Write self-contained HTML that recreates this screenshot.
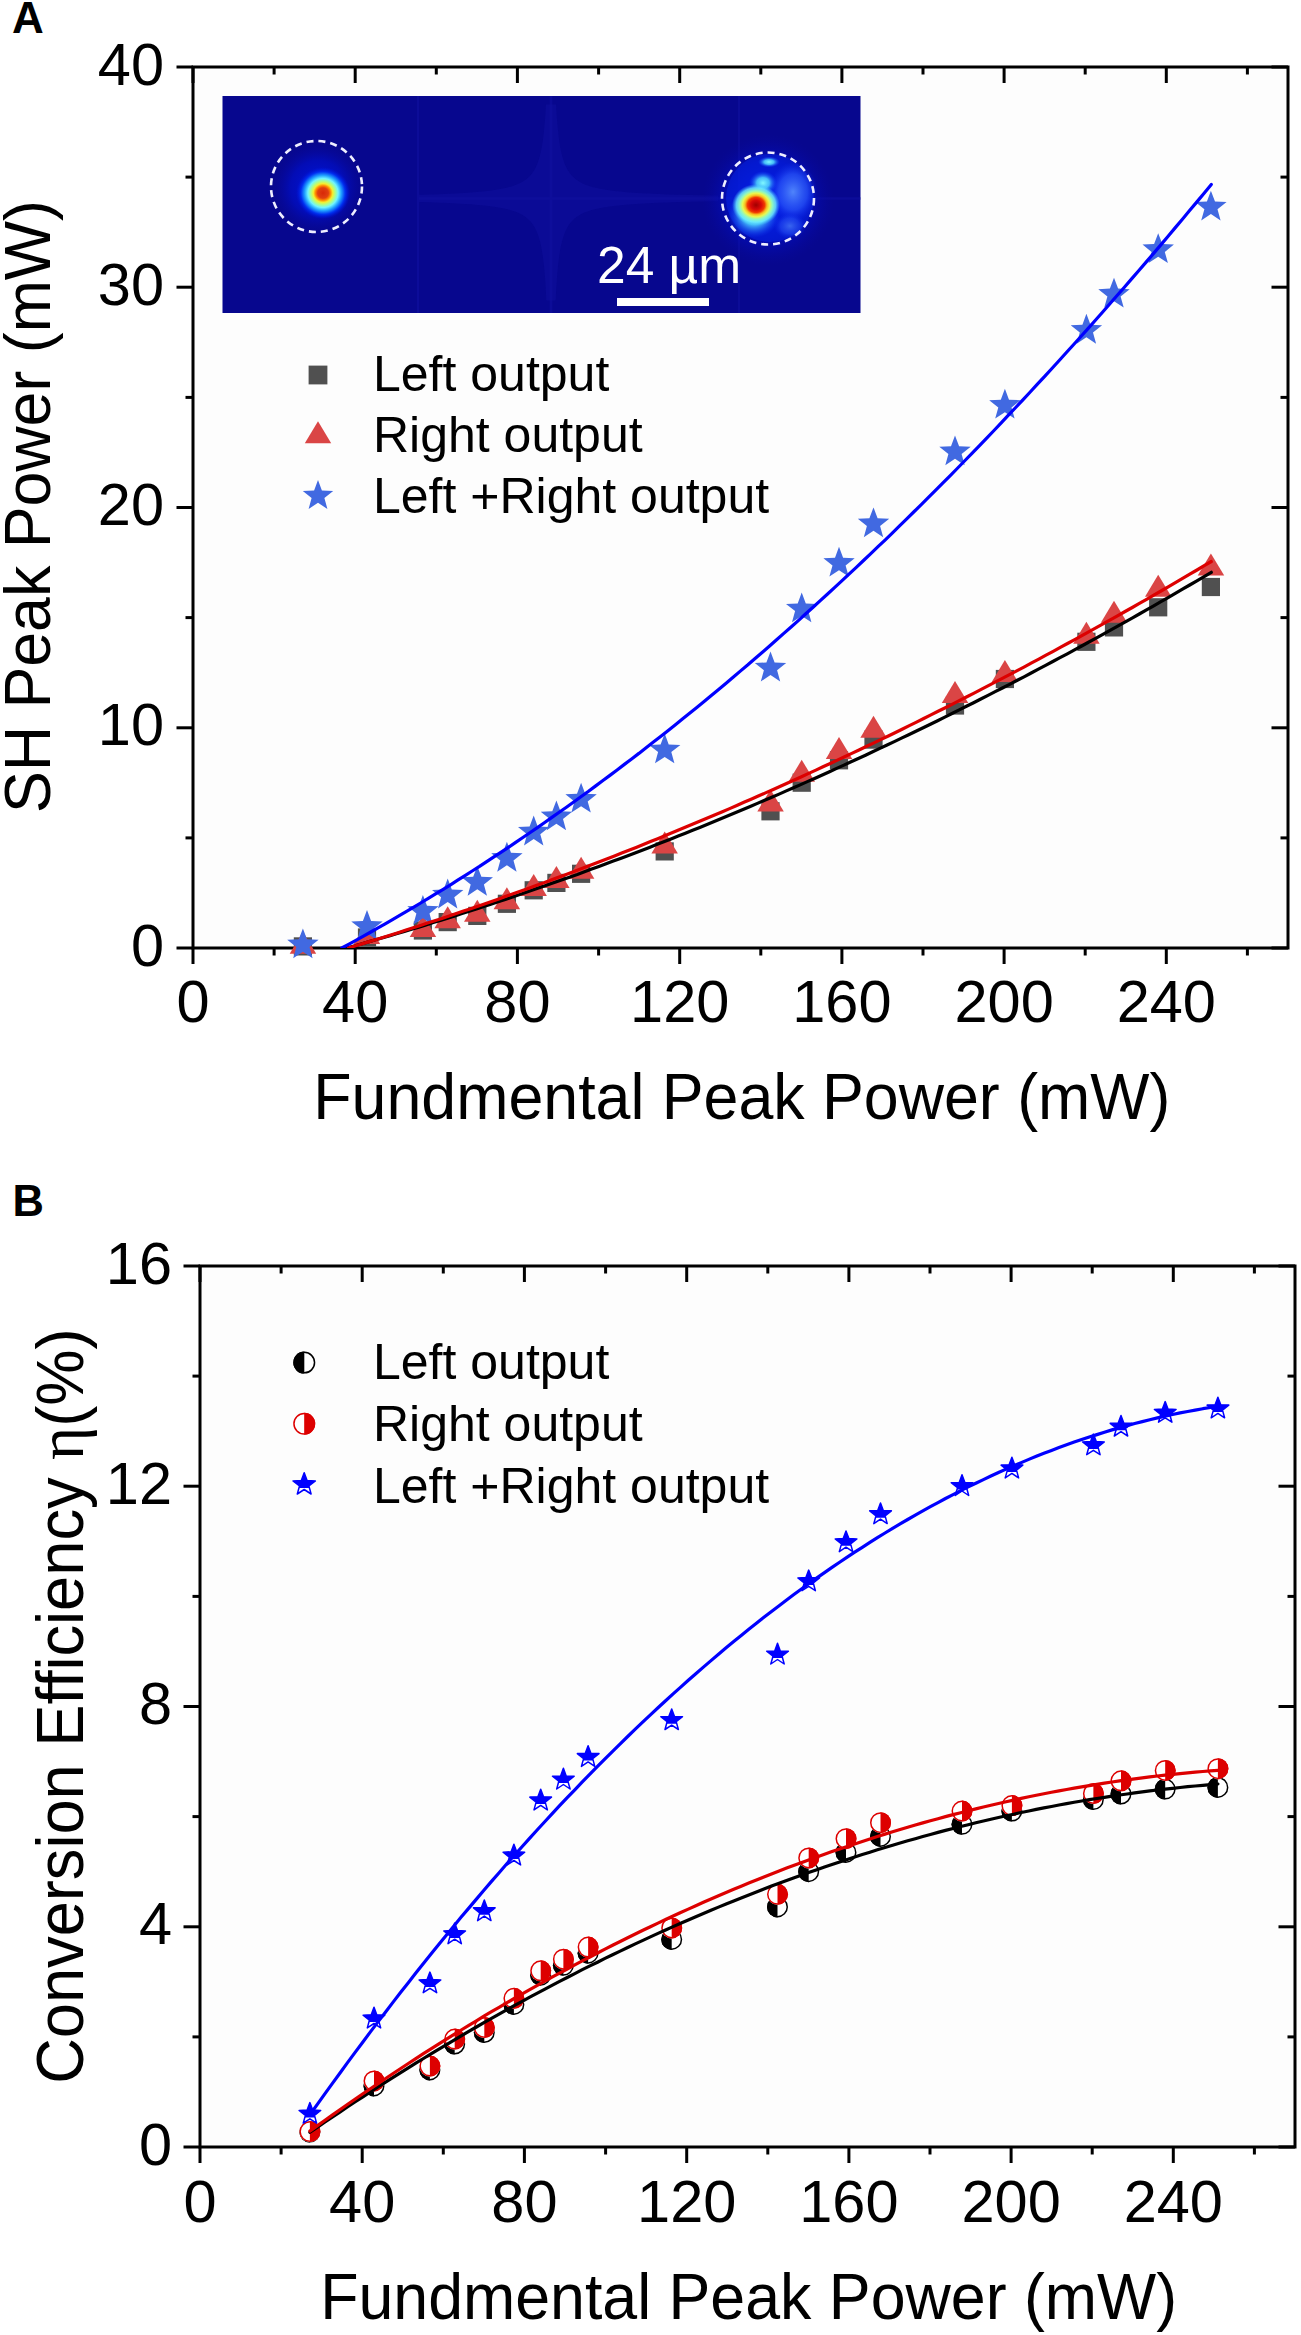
<!DOCTYPE html>
<html><head><meta charset="utf-8"><title>SH power and conversion efficiency</title>
<style>
html,body{margin:0;padding:0;background:#fff;}
body{width:1301px;height:2335px;overflow:hidden;}
svg{display:block;}
text{font-family:"Liberation Sans",sans-serif;font-variant-ligatures:none;font-feature-settings:"liga" 0;}
</style></head><body>
<svg width="1301" height="2335" viewBox="0 0 1301 2335">
<defs>
<radialGradient id="spotL" cx="0.5" cy="0.5" r="0.5">
 <stop offset="0" stop-color="#d82808"/>
 <stop offset="0.2" stop-color="#e04010"/>
 <stop offset="0.28" stop-color="#ff8a00"/>
 <stop offset="0.36" stop-color="#f4f030"/>
 <stop offset="0.46" stop-color="#a8ff90"/>
 <stop offset="0.56" stop-color="#70f4ff"/>
 <stop offset="0.68" stop-color="#20a0ff"/>
 <stop offset="0.82" stop-color="#0030f0"/>
 <stop offset="1" stop-color="#0010d8" stop-opacity="0"/>
</radialGradient>
<radialGradient id="spotR" cx="0.5" cy="0.5" r="0.5">
 <stop offset="0" stop-color="#a00000"/>
 <stop offset="0.22" stop-color="#d80808"/>
 <stop offset="0.36" stop-color="#f03a00"/>
 <stop offset="0.46" stop-color="#f8c020"/>
 <stop offset="0.56" stop-color="#e8f850"/>
 <stop offset="0.68" stop-color="#90f8c0"/>
 <stop offset="0.82" stop-color="#70f0ff" stop-opacity="0.8"/>
 <stop offset="1" stop-color="#40c0ff" stop-opacity="0"/>
</radialGradient>
<radialGradient id="glow" cx="0.5" cy="0.5" r="0.5">
 <stop offset="0" stop-color="#0018e8" stop-opacity="0.95"/>
 <stop offset="0.6" stop-color="#0010d0" stop-opacity="0.6"/>
 <stop offset="1" stop-color="#0808a0" stop-opacity="0"/>
</radialGradient>
<radialGradient id="cyan" cx="0.5" cy="0.5" r="0.5">
 <stop offset="0" stop-color="#80f8ff"/>
 <stop offset="0.45" stop-color="#50d8ff" stop-opacity="0.85"/>
 <stop offset="1" stop-color="#1040ff" stop-opacity="0"/>
</radialGradient>
<radialGradient id="lblue" cx="0.5" cy="0.5" r="0.5">
 <stop offset="0" stop-color="#5890ff" stop-opacity="0.9"/>
 <stop offset="0.6" stop-color="#3060ff" stop-opacity="0.6"/>
 <stop offset="1" stop-color="#1030f0" stop-opacity="0"/>
</radialGradient>
<clipPath id="clipA"><rect x="193.0" y="67.0" width="1095.0" height="881.0"/></clipPath>
<clipPath id="clipB"><rect x="200.0" y="1266.0" width="1095.0" height="881.0"/></clipPath>
</defs>
<rect width="1301" height="2335" fill="#fff"/>

<rect x="193.0" y="67.0" width="1095.0" height="881.0" fill="#fdfdfd"/>
<rect x="200.0" y="1266.0" width="1095.0" height="881.0" fill="#fdfdfd"/>
<rect x="222.5" y="96.0" width="638.0" height="217.0" fill="#07078e"/>
<g fill="none" stroke="#1010a0" stroke-width="2.5" opacity="0.6">
<line x1="418" y1="96.0" x2="418" y2="313.0" stroke-width="2"/>
<line x1="551" y1="96.0" x2="551" y2="313.0"/>
<line x1="739" y1="96.0" x2="739" y2="313.0" stroke-width="2"/>
<line x1="418" y1="198.4" x2="860.5" y2="198.4"/>
</g>
<path d="M556.1,104.4 L556.5,112.3 L557.0,119.5 L557.6,126.1 L558.2,132.1 L558.8,137.7 L559.5,142.8 L560.3,147.4 L561.2,151.7 L562.1,155.6 L563.1,159.2 L564.2,162.5 L565.4,165.5 L566.8,168.2 L568.2,170.8 L569.8,173.1 L571.5,175.2 L573.3,177.1 L575.4,178.9 L577.6,180.6 L580.0,182.0 L582.7,183.4 L585.6,184.7 L588.8,185.8 L592.2,186.9 L596.0,187.8 L600.1,188.7 L604.6,189.5 L609.5,190.3 L614.8,191.0 L620.7,191.6 L627.0,192.2 L634.0,192.7 L641.5,193.2 L649.8,193.6 L658.9,194.0 L668.7,194.4 L679.5,194.7 L691.2,195.0 L704.0,195.3 L718.0,195.6 L718.0,201.2 L703.7,201.5 L690.6,201.8 L678.7,202.1 L667.7,202.5 L657.8,202.8 L648.6,203.3 L640.3,203.7 L632.6,204.2 L625.6,204.8 L619.2,205.4 L613.4,206.0 L608.1,206.7 L603.2,207.5 L598.7,208.4 L594.6,209.3 L590.9,210.3 L587.5,211.4 L584.4,212.6 L581.5,214.0 L578.9,215.4 L576.5,217.0 L574.3,218.8 L572.3,220.7 L570.5,222.8 L568.8,225.0 L567.3,227.5 L565.9,230.3 L564.6,233.3 L563.5,236.5 L562.4,240.1 L561.4,244.0 L560.5,248.3 L559.7,252.9 L559.0,258.0 L558.3,263.6 L557.7,269.7 L557.1,276.4 L556.6,283.7 L556.1,291.7 L555.7,300.4 L546.3,300.4 L545.9,292.2 L545.5,284.7 L545.0,277.8 L544.5,271.4 L543.9,265.5 L543.3,260.2 L542.6,255.2 L541.9,250.7 L541.1,246.5 L540.3,242.6 L539.3,239.1 L538.3,235.8 L537.2,232.8 L536.0,230.0 L534.7,227.5 L533.3,225.2 L531.7,223.0 L530.0,221.0 L528.2,219.2 L526.2,217.6 L524.0,216.0 L521.7,214.6 L519.1,213.3 L516.4,212.1 L513.3,211.0 L510.1,210.0 L506.5,209.1 L502.6,208.2 L498.4,207.4 L493.8,206.7 L488.8,206.0 L483.4,205.4 L477.5,204.9 L471.1,204.3 L464.1,203.9 L456.5,203.4 L448.3,203.0 L439.3,202.7 L429.6,202.3 L419.0,202.0 L419.0,194.8 L429.3,194.5 L438.9,194.2 L447.7,193.8 L455.7,193.4 L463.2,193.0 L470.1,192.5 L476.4,192.0 L482.3,191.5 L487.6,190.9 L492.6,190.3 L497.2,189.6 L501.4,188.8 L505.3,188.0 L508.9,187.1 L512.2,186.2 L515.2,185.1 L518.0,184.0 L520.6,182.8 L523.0,181.4 L525.2,180.0 L527.2,178.4 L529.1,176.7 L530.8,174.9 L532.4,172.9 L533.8,170.7 L535.2,168.4 L536.4,165.8 L537.6,163.1 L538.6,160.1 L539.6,156.8 L540.5,153.3 L541.3,149.5 L542.1,145.3 L542.8,140.8 L543.4,135.9 L544.0,130.6 L544.5,124.8 L545.1,118.5 L545.5,111.8 L545.9,104.4 Z" fill="#10109e" opacity="0.5"/>
<circle cx="318" cy="188" r="46" fill="url(#glow)"/>
<ellipse cx="323" cy="193" rx="27" ry="26" fill="url(#spotL)"/>
<circle cx="768" cy="200" r="66" fill="url(#glow)"/>
<circle cx="770" cy="198" r="44" fill="#0830ff" opacity="0.35"/>
<ellipse cx="793" cy="192" rx="24" ry="30" fill="url(#lblue)"/>
<ellipse cx="790" cy="226" rx="16" ry="13" fill="url(#lblue)" opacity="0.7"/>
<ellipse cx="763" cy="183" rx="14" ry="12" fill="url(#cyan)"/>
<ellipse cx="769" cy="162" rx="11" ry="5.5" fill="url(#cyan)"/>
<ellipse cx="754" cy="214" rx="26" ry="24" fill="url(#cyan)"/>
<ellipse cx="756" cy="205" rx="24" ry="21" fill="url(#spotR)"/>
<g fill="none" stroke="#eeeeff" stroke-width="2.6" stroke-dasharray="7 5">
<circle cx="316.5" cy="186.5" r="45.5"/>
<circle cx="768" cy="198.5" r="46"/>
</g>
<rect x="617" y="298" width="92" height="8" fill="#fff"/>
<text x="597" y="283" font-size="51.5" fill="#fff">24 µm</text>
<rect x="193.0" y="67.0" width="1095.0" height="881.0" fill="none" stroke="#000" stroke-width="3"/><line x1="193.0" y1="948.0" x2="193.0" y2="964.0" stroke="#000" stroke-width="3"/><line x1="193.0" y1="67.0" x2="193.0" y2="83.0" stroke="#000" stroke-width="3"/><text x="193.0" y="1022" font-size="59.5" text-anchor="middle">0</text><line x1="274.1" y1="948.0" x2="274.1" y2="955.5" stroke="#000" stroke-width="3"/><line x1="274.1" y1="67.0" x2="274.1" y2="74.5" stroke="#000" stroke-width="3"/><line x1="355.2" y1="948.0" x2="355.2" y2="964.0" stroke="#000" stroke-width="3"/><line x1="355.2" y1="67.0" x2="355.2" y2="83.0" stroke="#000" stroke-width="3"/><text x="355.2" y="1022" font-size="59.5" text-anchor="middle">40</text><line x1="436.3" y1="948.0" x2="436.3" y2="955.5" stroke="#000" stroke-width="3"/><line x1="436.3" y1="67.0" x2="436.3" y2="74.5" stroke="#000" stroke-width="3"/><line x1="517.4" y1="948.0" x2="517.4" y2="964.0" stroke="#000" stroke-width="3"/><line x1="517.4" y1="67.0" x2="517.4" y2="83.0" stroke="#000" stroke-width="3"/><text x="517.4" y="1022" font-size="59.5" text-anchor="middle">80</text><line x1="598.6" y1="948.0" x2="598.6" y2="955.5" stroke="#000" stroke-width="3"/><line x1="598.6" y1="67.0" x2="598.6" y2="74.5" stroke="#000" stroke-width="3"/><line x1="679.7" y1="948.0" x2="679.7" y2="964.0" stroke="#000" stroke-width="3"/><line x1="679.7" y1="67.0" x2="679.7" y2="83.0" stroke="#000" stroke-width="3"/><text x="679.7" y="1022" font-size="59.5" text-anchor="middle">120</text><line x1="760.8" y1="948.0" x2="760.8" y2="955.5" stroke="#000" stroke-width="3"/><line x1="760.8" y1="67.0" x2="760.8" y2="74.5" stroke="#000" stroke-width="3"/><line x1="841.9" y1="948.0" x2="841.9" y2="964.0" stroke="#000" stroke-width="3"/><line x1="841.9" y1="67.0" x2="841.9" y2="83.0" stroke="#000" stroke-width="3"/><text x="841.9" y="1022" font-size="59.5" text-anchor="middle">160</text><line x1="923.0" y1="948.0" x2="923.0" y2="955.5" stroke="#000" stroke-width="3"/><line x1="923.0" y1="67.0" x2="923.0" y2="74.5" stroke="#000" stroke-width="3"/><line x1="1004.1" y1="948.0" x2="1004.1" y2="964.0" stroke="#000" stroke-width="3"/><line x1="1004.1" y1="67.0" x2="1004.1" y2="83.0" stroke="#000" stroke-width="3"/><text x="1004.1" y="1022" font-size="59.5" text-anchor="middle">200</text><line x1="1085.2" y1="948.0" x2="1085.2" y2="955.5" stroke="#000" stroke-width="3"/><line x1="1085.2" y1="67.0" x2="1085.2" y2="74.5" stroke="#000" stroke-width="3"/><line x1="1166.3" y1="948.0" x2="1166.3" y2="964.0" stroke="#000" stroke-width="3"/><line x1="1166.3" y1="67.0" x2="1166.3" y2="83.0" stroke="#000" stroke-width="3"/><text x="1166.3" y="1022" font-size="59.5" text-anchor="middle">240</text><line x1="1247.4" y1="948.0" x2="1247.4" y2="955.5" stroke="#000" stroke-width="3"/><line x1="1247.4" y1="67.0" x2="1247.4" y2="74.5" stroke="#000" stroke-width="3"/><line x1="176.5" y1="948.0" x2="193.0" y2="948.0" stroke="#000" stroke-width="3"/><line x1="1271.5" y1="948.0" x2="1288.0" y2="948.0" stroke="#000" stroke-width="3"/><text x="164" y="965.5" font-size="59.5" text-anchor="end">0</text><line x1="176.5" y1="727.8" x2="193.0" y2="727.8" stroke="#000" stroke-width="3"/><line x1="1271.5" y1="727.8" x2="1288.0" y2="727.8" stroke="#000" stroke-width="3"/><text x="164" y="745.2" font-size="59.5" text-anchor="end">10</text><line x1="176.5" y1="507.5" x2="193.0" y2="507.5" stroke="#000" stroke-width="3"/><line x1="1271.5" y1="507.5" x2="1288.0" y2="507.5" stroke="#000" stroke-width="3"/><text x="164" y="525.0" font-size="59.5" text-anchor="end">20</text><line x1="176.5" y1="287.2" x2="193.0" y2="287.2" stroke="#000" stroke-width="3"/><line x1="1271.5" y1="287.2" x2="1288.0" y2="287.2" stroke="#000" stroke-width="3"/><text x="164" y="304.8" font-size="59.5" text-anchor="end">30</text><line x1="176.5" y1="67.0" x2="193.0" y2="67.0" stroke="#000" stroke-width="3"/><line x1="1271.5" y1="67.0" x2="1288.0" y2="67.0" stroke="#000" stroke-width="3"/><text x="164" y="84.5" font-size="59.5" text-anchor="end">40</text><line x1="185.5" y1="837.9" x2="193.0" y2="837.9" stroke="#000" stroke-width="3"/><line x1="1280.5" y1="837.9" x2="1288.0" y2="837.9" stroke="#000" stroke-width="3"/><line x1="185.5" y1="617.6" x2="193.0" y2="617.6" stroke="#000" stroke-width="3"/><line x1="1280.5" y1="617.6" x2="1288.0" y2="617.6" stroke="#000" stroke-width="3"/><line x1="185.5" y1="397.4" x2="193.0" y2="397.4" stroke="#000" stroke-width="3"/><line x1="1280.5" y1="397.4" x2="1288.0" y2="397.4" stroke="#000" stroke-width="3"/><line x1="185.5" y1="177.1" x2="193.0" y2="177.1" stroke="#000" stroke-width="3"/><line x1="1280.5" y1="177.1" x2="1288.0" y2="177.1" stroke="#000" stroke-width="3"/>
<rect x="200.0" y="1266.0" width="1095.0" height="881.0" fill="none" stroke="#000" stroke-width="3"/><line x1="200.0" y1="2147.0" x2="200.0" y2="2163.0" stroke="#000" stroke-width="3"/><line x1="200.0" y1="1266.0" x2="200.0" y2="1282.0" stroke="#000" stroke-width="3"/><text x="200.0" y="2222" font-size="59.5" text-anchor="middle">0</text><line x1="281.1" y1="2147.0" x2="281.1" y2="2154.5" stroke="#000" stroke-width="3"/><line x1="281.1" y1="1266.0" x2="281.1" y2="1273.5" stroke="#000" stroke-width="3"/><line x1="362.2" y1="2147.0" x2="362.2" y2="2163.0" stroke="#000" stroke-width="3"/><line x1="362.2" y1="1266.0" x2="362.2" y2="1282.0" stroke="#000" stroke-width="3"/><text x="362.2" y="2222" font-size="59.5" text-anchor="middle">40</text><line x1="443.3" y1="2147.0" x2="443.3" y2="2154.5" stroke="#000" stroke-width="3"/><line x1="443.3" y1="1266.0" x2="443.3" y2="1273.5" stroke="#000" stroke-width="3"/><line x1="524.4" y1="2147.0" x2="524.4" y2="2163.0" stroke="#000" stroke-width="3"/><line x1="524.4" y1="1266.0" x2="524.4" y2="1282.0" stroke="#000" stroke-width="3"/><text x="524.4" y="2222" font-size="59.5" text-anchor="middle">80</text><line x1="605.6" y1="2147.0" x2="605.6" y2="2154.5" stroke="#000" stroke-width="3"/><line x1="605.6" y1="1266.0" x2="605.6" y2="1273.5" stroke="#000" stroke-width="3"/><line x1="686.7" y1="2147.0" x2="686.7" y2="2163.0" stroke="#000" stroke-width="3"/><line x1="686.7" y1="1266.0" x2="686.7" y2="1282.0" stroke="#000" stroke-width="3"/><text x="686.7" y="2222" font-size="59.5" text-anchor="middle">120</text><line x1="767.8" y1="2147.0" x2="767.8" y2="2154.5" stroke="#000" stroke-width="3"/><line x1="767.8" y1="1266.0" x2="767.8" y2="1273.5" stroke="#000" stroke-width="3"/><line x1="848.9" y1="2147.0" x2="848.9" y2="2163.0" stroke="#000" stroke-width="3"/><line x1="848.9" y1="1266.0" x2="848.9" y2="1282.0" stroke="#000" stroke-width="3"/><text x="848.9" y="2222" font-size="59.5" text-anchor="middle">160</text><line x1="930.0" y1="2147.0" x2="930.0" y2="2154.5" stroke="#000" stroke-width="3"/><line x1="930.0" y1="1266.0" x2="930.0" y2="1273.5" stroke="#000" stroke-width="3"/><line x1="1011.1" y1="2147.0" x2="1011.1" y2="2163.0" stroke="#000" stroke-width="3"/><line x1="1011.1" y1="1266.0" x2="1011.1" y2="1282.0" stroke="#000" stroke-width="3"/><text x="1011.1" y="2222" font-size="59.5" text-anchor="middle">200</text><line x1="1092.2" y1="2147.0" x2="1092.2" y2="2154.5" stroke="#000" stroke-width="3"/><line x1="1092.2" y1="1266.0" x2="1092.2" y2="1273.5" stroke="#000" stroke-width="3"/><line x1="1173.3" y1="2147.0" x2="1173.3" y2="2163.0" stroke="#000" stroke-width="3"/><line x1="1173.3" y1="1266.0" x2="1173.3" y2="1282.0" stroke="#000" stroke-width="3"/><text x="1173.3" y="2222" font-size="59.5" text-anchor="middle">240</text><line x1="1254.4" y1="2147.0" x2="1254.4" y2="2154.5" stroke="#000" stroke-width="3"/><line x1="1254.4" y1="1266.0" x2="1254.4" y2="1273.5" stroke="#000" stroke-width="3"/><line x1="183.5" y1="2147.0" x2="200.0" y2="2147.0" stroke="#000" stroke-width="3"/><line x1="1278.5" y1="2147.0" x2="1295.0" y2="2147.0" stroke="#000" stroke-width="3"/><text x="172" y="2164.5" font-size="59.5" text-anchor="end">0</text><line x1="183.5" y1="1926.8" x2="200.0" y2="1926.8" stroke="#000" stroke-width="3"/><line x1="1278.5" y1="1926.8" x2="1295.0" y2="1926.8" stroke="#000" stroke-width="3"/><text x="172" y="1944.2" font-size="59.5" text-anchor="end">4</text><line x1="183.5" y1="1706.5" x2="200.0" y2="1706.5" stroke="#000" stroke-width="3"/><line x1="1278.5" y1="1706.5" x2="1295.0" y2="1706.5" stroke="#000" stroke-width="3"/><text x="172" y="1724.0" font-size="59.5" text-anchor="end">8</text><line x1="183.5" y1="1486.2" x2="200.0" y2="1486.2" stroke="#000" stroke-width="3"/><line x1="1278.5" y1="1486.2" x2="1295.0" y2="1486.2" stroke="#000" stroke-width="3"/><text x="172" y="1503.8" font-size="59.5" text-anchor="end">12</text><line x1="183.5" y1="1266.0" x2="200.0" y2="1266.0" stroke="#000" stroke-width="3"/><line x1="1278.5" y1="1266.0" x2="1295.0" y2="1266.0" stroke="#000" stroke-width="3"/><text x="172" y="1283.5" font-size="59.5" text-anchor="end">16</text><line x1="192.5" y1="2036.9" x2="200.0" y2="2036.9" stroke="#000" stroke-width="3"/><line x1="1287.5" y1="2036.9" x2="1295.0" y2="2036.9" stroke="#000" stroke-width="3"/><line x1="192.5" y1="1816.6" x2="200.0" y2="1816.6" stroke="#000" stroke-width="3"/><line x1="1287.5" y1="1816.6" x2="1295.0" y2="1816.6" stroke="#000" stroke-width="3"/><line x1="192.5" y1="1596.4" x2="200.0" y2="1596.4" stroke="#000" stroke-width="3"/><line x1="1287.5" y1="1596.4" x2="1295.0" y2="1596.4" stroke="#000" stroke-width="3"/><line x1="192.5" y1="1376.1" x2="200.0" y2="1376.1" stroke="#000" stroke-width="3"/><line x1="1287.5" y1="1376.1" x2="1295.0" y2="1376.1" stroke="#000" stroke-width="3"/>
<rect x="293.8" y="937.3" width="18.2" height="18.2" fill="#505050"/>
<rect x="357.9" y="928.4" width="18.2" height="18.2" fill="#505050"/>
<rect x="413.8" y="921.4" width="18.2" height="18.2" fill="#505050"/>
<rect x="438.6" y="913.0" width="18.2" height="18.2" fill="#505050"/>
<rect x="468.2" y="906.8" width="18.2" height="18.2" fill="#505050"/>
<rect x="497.8" y="894.7" width="18.2" height="18.2" fill="#505050"/>
<rect x="524.6" y="881.2" width="18.2" height="18.2" fill="#505050"/>
<rect x="547.3" y="873.8" width="18.2" height="18.2" fill="#505050"/>
<rect x="572.0" y="864.7" width="18.2" height="18.2" fill="#505050"/>
<rect x="655.6" y="842.3" width="18.2" height="18.2" fill="#505050"/>
<rect x="761.4" y="802.2" width="18.2" height="18.2" fill="#505050"/>
<rect x="792.6" y="773.6" width="18.2" height="18.2" fill="#505050"/>
<rect x="829.9" y="751.2" width="18.2" height="18.2" fill="#505050"/>
<rect x="864.4" y="730.5" width="18.2" height="18.2" fill="#505050"/>
<rect x="945.9" y="696.4" width="18.2" height="18.2" fill="#505050"/>
<rect x="995.8" y="669.9" width="18.2" height="18.2" fill="#505050"/>
<rect x="1077.3" y="632.7" width="18.2" height="18.2" fill="#505050"/>
<rect x="1104.9" y="618.3" width="18.2" height="18.2" fill="#505050"/>
<rect x="1149.1" y="598.2" width="18.2" height="18.2" fill="#505050"/>
<rect x="1201.8" y="577.9" width="18.2" height="18.2" fill="#505050"/>
<polygon points="302.9,931.7 316.2,953.7 289.7,953.7" fill="#da4545"/>
<polygon points="367.0,922.0 380.2,944.0 353.7,944.0" fill="#da4545"/>
<polygon points="422.9,915.0 436.2,937.0 409.7,937.0" fill="#da4545"/>
<polygon points="447.7,906.2 460.9,928.2 434.4,928.2" fill="#da4545"/>
<polygon points="477.3,899.8 490.5,921.8 464.0,921.8" fill="#da4545"/>
<polygon points="506.9,887.3 520.1,909.3 493.6,909.3" fill="#da4545"/>
<polygon points="533.7,874.1 546.9,896.1 520.4,896.1" fill="#da4545"/>
<polygon points="556.4,866.0 569.6,888.0 543.1,888.0" fill="#da4545"/>
<polygon points="581.1,856.8 594.4,878.8 567.9,878.8" fill="#da4545"/>
<polygon points="664.7,831.4 677.9,853.4 651.4,853.4" fill="#da4545"/>
<polygon points="770.5,789.4 783.8,811.4 757.3,811.4" fill="#da4545"/>
<polygon points="801.7,759.8 815.0,781.8 788.5,781.8" fill="#da4545"/>
<polygon points="839.0,736.9 852.3,758.9 825.8,758.9" fill="#da4545"/>
<polygon points="873.5,715.7 886.8,737.7 860.3,737.7" fill="#da4545"/>
<polygon points="955.0,680.9 968.3,702.9 941.8,702.9" fill="#da4545"/>
<polygon points="1004.9,660.0 1018.2,682.0 991.7,682.0" fill="#da4545"/>
<polygon points="1086.4,621.8 1099.7,643.8 1073.2,643.8" fill="#da4545"/>
<polygon points="1114.0,600.7 1127.3,622.7 1100.8,622.7" fill="#da4545"/>
<polygon points="1158.2,574.8 1171.5,596.8 1145.0,596.8" fill="#da4545"/>
<polygon points="1210.9,553.5 1224.2,575.5 1197.7,575.5" fill="#da4545"/>
<polygon points="302.9,928.4 307.0,939.3 318.6,939.8 309.5,947.1 312.6,958.3 302.9,951.8 293.2,958.3 296.3,947.1 287.2,939.8 298.8,939.3" fill="#4169e1"/>
<polygon points="367.0,910.0 371.1,920.9 382.7,921.4 373.6,928.6 376.7,939.8 367.0,933.4 357.3,939.8 360.4,928.6 351.3,921.4 362.9,920.9" fill="#4169e1"/>
<polygon points="422.9,894.9 427.0,905.8 438.6,906.3 429.5,913.6 432.6,924.8 422.9,918.3 413.3,924.8 416.4,913.6 407.3,906.3 418.9,905.8" fill="#4169e1"/>
<polygon points="447.7,878.6 451.8,889.5 463.4,890.0 454.3,897.3 457.4,908.5 447.7,902.0 438.0,908.5 441.1,897.3 432.0,890.0 443.6,889.5" fill="#4169e1"/>
<polygon points="477.3,865.9 481.4,876.8 493.0,877.3 483.9,884.6 487.0,895.8 477.3,889.3 467.6,895.8 470.7,884.6 461.6,877.3 473.2,876.8" fill="#4169e1"/>
<polygon points="506.9,841.8 511.0,852.7 522.6,853.2 513.5,860.5 516.6,871.7 506.9,865.2 497.2,871.7 500.3,860.5 491.2,853.2 502.8,852.7" fill="#4169e1"/>
<polygon points="533.7,815.6 537.7,826.5 549.4,827.0 540.3,834.3 543.4,845.5 533.7,839.1 524.0,845.5 527.1,834.3 518.0,827.0 529.6,826.5" fill="#4169e1"/>
<polygon points="556.4,800.4 560.5,811.3 572.1,811.8 563.0,819.0 566.1,830.2 556.4,823.8 546.7,830.2 549.8,819.0 540.7,811.8 552.3,811.3" fill="#4169e1"/>
<polygon points="581.1,782.8 585.2,793.7 596.8,794.2 587.7,801.4 590.8,812.6 581.1,806.2 571.4,812.6 574.5,801.4 565.4,794.2 577.0,793.7" fill="#4169e1"/>
<polygon points="664.7,733.5 668.7,744.4 680.4,744.9 671.3,752.1 674.4,763.3 664.7,756.9 655.0,763.3 658.1,752.1 649.0,744.9 660.6,744.4" fill="#4169e1"/>
<polygon points="770.5,651.6 774.6,662.5 786.2,663.0 777.1,670.3 780.2,681.5 770.5,675.0 760.8,681.5 763.9,670.3 754.8,663.0 766.4,662.5" fill="#4169e1"/>
<polygon points="801.7,592.5 805.8,603.4 817.4,603.9 808.3,611.1 811.4,622.3 801.7,615.9 792.0,622.3 795.1,611.1 786.0,603.9 797.7,603.4" fill="#4169e1"/>
<polygon points="839.0,546.8 843.1,557.7 854.7,558.2 845.6,565.4 848.7,576.6 839.0,570.2 829.4,576.6 832.5,565.4 823.4,558.2 835.0,557.7" fill="#4169e1"/>
<polygon points="873.5,507.4 877.6,518.2 889.2,518.8 880.1,526.0 883.2,537.2 873.5,530.8 863.8,537.2 866.9,526.0 857.8,518.8 869.4,518.2" fill="#4169e1"/>
<polygon points="955.0,435.4 959.1,446.3 970.7,446.8 961.6,454.0 964.7,465.2 955.0,458.8 945.3,465.2 948.4,454.0 939.3,446.8 951.0,446.3" fill="#4169e1"/>
<polygon points="1004.9,388.8 1009.0,399.7 1020.6,400.2 1011.5,407.4 1014.6,418.6 1004.9,412.2 995.2,418.6 998.3,407.4 989.2,400.2 1000.8,399.7" fill="#4169e1"/>
<polygon points="1086.4,313.8 1090.5,324.7 1102.1,325.2 1093.0,332.5 1096.1,343.7 1086.4,337.3 1076.7,343.7 1079.8,332.5 1070.7,325.2 1082.4,324.7" fill="#4169e1"/>
<polygon points="1114.0,277.8 1118.1,288.6 1129.7,289.2 1120.6,296.4 1123.7,307.6 1114.0,301.2 1104.3,307.6 1107.4,296.4 1098.3,289.2 1109.9,288.6" fill="#4169e1"/>
<polygon points="1158.2,233.2 1162.3,244.1 1173.9,244.6 1164.8,251.9 1167.9,263.1 1158.2,256.7 1148.5,263.1 1151.6,251.9 1142.5,244.6 1154.1,244.1" fill="#4169e1"/>
<polygon points="1210.9,190.7 1215.0,201.6 1226.6,202.1 1217.5,209.3 1220.6,220.5 1210.9,214.1 1201.2,220.5 1204.4,209.3 1195.3,202.1 1206.9,201.6" fill="#4169e1"/>
<g clip-path="url(#clipA)">
<path d="M346.8,948.0 L354.0,946.0 L361.2,944.0 L368.4,941.9 L375.6,939.8 L382.8,937.8 L390.0,935.7 L397.2,933.5 L404.4,931.4 L411.6,929.2 L418.8,927.1 L426.0,924.9 L433.2,922.6 L440.4,920.4 L447.6,918.2 L454.8,915.9 L462.0,913.6 L469.2,911.3 L476.4,909.0 L483.7,906.6 L490.9,904.2 L498.1,901.8 L505.3,899.4 L512.5,897.0 L519.7,894.6 L526.9,892.1 L534.1,889.6 L541.3,887.1 L548.5,884.6 L555.7,882.1 L562.9,879.5 L570.1,876.9 L577.3,874.4 L584.5,871.7 L591.7,869.1 L598.9,866.5 L606.1,863.8 L613.3,861.1 L620.5,858.4 L627.8,855.7 L635.0,852.9 L642.2,850.2 L649.4,847.4 L656.6,844.6 L663.8,841.8 L671.0,838.9 L678.2,836.1 L685.4,833.2 L692.6,830.3 L699.8,827.4 L707.0,824.5 L714.2,821.5 L721.4,818.5 L728.6,815.5 L735.8,812.5 L743.0,809.5 L750.2,806.5 L757.4,803.4 L764.6,800.3 L771.8,797.2 L779.1,794.1 L786.3,790.9 L793.5,787.8 L800.7,784.6 L807.9,781.4 L815.1,778.2 L822.3,775.0 L829.5,771.7 L836.7,768.4 L843.9,765.1 L851.1,761.8 L858.3,758.5 L865.5,755.2 L872.7,751.8 L879.9,748.4 L887.1,745.0 L894.3,741.6 L901.5,738.1 L908.7,734.7 L915.9,731.2 L923.2,727.7 L930.4,724.2 L937.6,720.7 L944.8,717.1 L952.0,713.5 L959.2,709.9 L966.4,706.3 L973.6,702.7 L980.8,699.0 L988.0,695.4 L995.2,691.7 L1002.4,688.0 L1009.6,684.3 L1016.8,680.5 L1024.0,676.8 L1031.2,673.0 L1038.4,669.2 L1045.6,665.4 L1052.8,661.5 L1060.0,657.7 L1067.3,653.8 L1074.5,649.9 L1081.7,646.0 L1088.9,642.0 L1096.1,638.1 L1103.3,634.1 L1110.5,630.1 L1117.7,626.1 L1124.9,622.1 L1132.1,618.1 L1139.3,614.0 L1146.5,609.9 L1153.7,605.8 L1160.9,601.7 L1168.1,597.6 L1175.3,593.4 L1182.5,589.2 L1189.7,585.0 L1196.9,580.8 L1204.1,576.6 L1211.3,572.3" fill="none" stroke="#000" stroke-width="3.2" stroke-linecap="round" stroke-linejoin="round"/>
<path d="M348.4,948.0 L355.6,945.8 L362.8,943.6 L370.0,941.4 L377.2,939.2 L384.4,937.0 L391.6,934.7 L398.8,932.4 L406.0,930.1 L413.2,927.8 L420.4,925.5 L427.5,923.1 L434.7,920.8 L441.9,918.4 L449.1,916.0 L456.3,913.6 L463.5,911.1 L470.7,908.7 L477.9,906.2 L485.1,903.7 L492.3,901.2 L499.5,898.7 L506.6,896.1 L513.8,893.6 L521.0,891.0 L528.2,888.4 L535.4,885.8 L542.6,883.2 L549.8,880.5 L557.0,877.8 L564.2,875.2 L571.4,872.5 L578.6,869.7 L585.7,867.0 L592.9,864.2 L600.1,861.5 L607.3,858.7 L614.5,855.9 L621.7,853.1 L628.9,850.2 L636.1,847.4 L643.3,844.5 L650.5,841.6 L657.7,838.7 L664.8,835.7 L672.0,832.8 L679.2,829.8 L686.4,826.8 L693.6,823.8 L700.8,820.8 L708.0,817.8 L715.2,814.7 L722.4,811.7 L729.6,808.6 L736.8,805.5 L743.9,802.3 L751.1,799.2 L758.3,796.0 L765.5,792.9 L772.7,789.7 L779.9,786.5 L787.1,783.2 L794.3,780.0 L801.5,776.7 L808.7,773.4 L815.9,770.1 L823.0,766.8 L830.2,763.5 L837.4,760.1 L844.6,756.8 L851.8,753.4 L859.0,750.0 L866.2,746.5 L873.4,743.1 L880.6,739.6 L887.8,736.2 L895.0,732.7 L902.1,729.2 L909.3,725.6 L916.5,722.1 L923.7,718.5 L930.9,714.9 L938.1,711.3 L945.3,707.7 L952.5,704.1 L959.7,700.4 L966.9,696.8 L974.1,693.1 L981.2,689.4 L988.4,685.6 L995.6,681.9 L1002.8,678.1 L1010.0,674.4 L1017.2,670.6 L1024.4,666.8 L1031.6,662.9 L1038.8,659.1 L1046.0,655.2 L1053.2,651.3 L1060.3,647.4 L1067.5,643.5 L1074.7,639.6 L1081.9,635.6 L1089.1,631.7 L1096.3,627.7 L1103.5,623.7 L1110.7,619.6 L1117.9,615.6 L1125.1,611.5 L1132.3,607.5 L1139.4,603.4 L1146.6,599.3 L1153.8,595.1 L1161.0,591.0 L1168.2,586.8 L1175.4,582.6 L1182.6,578.4 L1189.8,574.2 L1197.0,570.0 L1204.2,565.7 L1211.3,561.5" fill="none" stroke="#dd0000" stroke-width="3.2" stroke-linecap="round" stroke-linejoin="round"/>
<path d="M341.8,948.0 L349.0,944.1 L356.3,940.1 L363.5,936.1 L370.8,932.0 L378.0,927.9 L385.2,923.8 L392.5,919.6 L399.7,915.4 L407.0,911.2 L414.2,906.9 L421.5,902.5 L428.7,898.2 L436.0,893.7 L443.2,889.3 L450.5,884.8 L457.7,880.2 L465.0,875.6 L472.2,871.0 L479.5,866.4 L486.7,861.6 L493.9,856.9 L501.2,852.1 L508.4,847.3 L515.7,842.4 L522.9,837.5 L530.2,832.5 L537.4,827.6 L544.7,822.5 L551.9,817.4 L559.2,812.3 L566.4,807.2 L573.7,802.0 L580.9,796.7 L588.2,791.5 L595.4,786.1 L602.6,780.8 L609.9,775.4 L617.1,769.9 L624.4,764.4 L631.6,758.9 L638.9,753.4 L646.1,747.7 L653.4,742.1 L660.6,736.4 L667.9,730.7 L675.1,724.9 L682.4,719.1 L689.6,713.2 L696.8,707.4 L704.1,701.4 L711.3,695.4 L718.6,689.4 L725.8,683.4 L733.1,677.3 L740.3,671.1 L747.6,665.0 L754.8,658.7 L762.1,652.5 L769.3,646.2 L776.6,639.8 L783.8,633.4 L791.1,627.0 L798.3,620.6 L805.5,614.0 L812.8,607.5 L820.0,600.9 L827.3,594.3 L834.5,587.6 L841.8,580.9 L849.0,574.1 L856.3,567.4 L863.5,560.5 L870.8,553.6 L878.0,546.7 L885.3,539.8 L892.5,532.8 L899.8,525.7 L907.0,518.7 L914.2,511.5 L921.5,504.4 L928.7,497.2 L936.0,489.9 L943.2,482.6 L950.5,475.3 L957.7,468.0 L965.0,460.5 L972.2,453.1 L979.5,445.6 L986.7,438.1 L994.0,430.5 L1001.2,422.9 L1008.4,415.2 L1015.7,407.5 L1022.9,399.8 L1030.2,392.0 L1037.4,384.2 L1044.7,376.4 L1051.9,368.5 L1059.2,360.5 L1066.4,352.5 L1073.7,344.5 L1080.9,336.5 L1088.2,328.4 L1095.4,320.2 L1102.7,312.0 L1109.9,303.8 L1117.1,295.5 L1124.4,287.2 L1131.6,278.9 L1138.9,270.5 L1146.1,262.1 L1153.4,253.6 L1160.6,245.1 L1167.9,236.5 L1175.1,227.9 L1182.4,219.3 L1189.6,210.6 L1196.9,201.9 L1204.1,193.2 L1211.3,184.4" fill="none" stroke="#0000ff" stroke-width="3.2" stroke-linecap="round" stroke-linejoin="round"/>
</g>
<circle cx="309.9" cy="2132.1" r="10.5" fill="#fff"/><path d="M309.9,2121.6 A10.5,10.5 0 0 0 309.9,2142.6 Z" fill="#000"/><circle cx="309.9" cy="2132.1" r="9.75" fill="none" stroke="#000" stroke-width="1.5"/>
<circle cx="374.0" cy="2085.9" r="10.5" fill="#fff"/><path d="M374.0,2075.4 A10.5,10.5 0 0 0 374.0,2096.4 Z" fill="#000"/><circle cx="374.0" cy="2085.9" r="9.75" fill="none" stroke="#000" stroke-width="1.5"/>
<circle cx="429.9" cy="2069.9" r="10.5" fill="#fff"/><path d="M429.9,2059.4 A10.5,10.5 0 0 0 429.9,2080.4 Z" fill="#000"/><circle cx="429.9" cy="2069.9" r="9.75" fill="none" stroke="#000" stroke-width="1.5"/>
<circle cx="454.7" cy="2044.0" r="10.5" fill="#fff"/><path d="M454.7,2033.5 A10.5,10.5 0 0 0 454.7,2054.5 Z" fill="#000"/><circle cx="454.7" cy="2044.0" r="9.75" fill="none" stroke="#000" stroke-width="1.5"/>
<circle cx="484.3" cy="2032.5" r="10.5" fill="#fff"/><path d="M484.3,2022.0 A10.5,10.5 0 0 0 484.3,2043.0 Z" fill="#000"/><circle cx="484.3" cy="2032.5" r="9.75" fill="none" stroke="#000" stroke-width="1.5"/>
<circle cx="513.9" cy="2004.4" r="10.5" fill="#fff"/><path d="M513.9,1993.9 A10.5,10.5 0 0 0 513.9,2014.9 Z" fill="#000"/><circle cx="513.9" cy="2004.4" r="9.75" fill="none" stroke="#000" stroke-width="1.5"/>
<circle cx="540.7" cy="1975.2" r="10.5" fill="#fff"/><path d="M540.7,1964.7 A10.5,10.5 0 0 0 540.7,1985.7 Z" fill="#000"/><circle cx="540.7" cy="1975.2" r="9.75" fill="none" stroke="#000" stroke-width="1.5"/>
<circle cx="563.4" cy="1965.3" r="10.5" fill="#fff"/><path d="M563.4,1954.8 A10.5,10.5 0 0 0 563.4,1975.8 Z" fill="#000"/><circle cx="563.4" cy="1965.3" r="9.75" fill="none" stroke="#000" stroke-width="1.5"/>
<circle cx="588.1" cy="1953.2" r="10.5" fill="#fff"/><path d="M588.1,1942.7 A10.5,10.5 0 0 0 588.1,1963.7 Z" fill="#000"/><circle cx="588.1" cy="1953.2" r="9.75" fill="none" stroke="#000" stroke-width="1.5"/>
<circle cx="671.7" cy="1939.4" r="10.5" fill="#fff"/><path d="M671.7,1928.9 A10.5,10.5 0 0 0 671.7,1949.9 Z" fill="#000"/><circle cx="671.7" cy="1939.4" r="9.75" fill="none" stroke="#000" stroke-width="1.5"/>
<circle cx="777.5" cy="1906.9" r="10.5" fill="#fff"/><path d="M777.5,1896.4 A10.5,10.5 0 0 0 777.5,1917.4 Z" fill="#000"/><circle cx="777.5" cy="1906.9" r="9.75" fill="none" stroke="#000" stroke-width="1.5"/>
<circle cx="808.7" cy="1871.7" r="10.5" fill="#fff"/><path d="M808.7,1861.2 A10.5,10.5 0 0 0 808.7,1882.2 Z" fill="#000"/><circle cx="808.7" cy="1871.7" r="9.75" fill="none" stroke="#000" stroke-width="1.5"/>
<circle cx="846.0" cy="1852.4" r="10.5" fill="#fff"/><path d="M846.0,1841.9 A10.5,10.5 0 0 0 846.0,1862.9 Z" fill="#000"/><circle cx="846.0" cy="1852.4" r="9.75" fill="none" stroke="#000" stroke-width="1.5"/>
<circle cx="880.5" cy="1836.4" r="10.5" fill="#fff"/><path d="M880.5,1825.9 A10.5,10.5 0 0 0 880.5,1846.9 Z" fill="#000"/><circle cx="880.5" cy="1836.4" r="9.75" fill="none" stroke="#000" stroke-width="1.5"/>
<circle cx="962.0" cy="1824.3" r="10.5" fill="#fff"/><path d="M962.0,1813.8 A10.5,10.5 0 0 0 962.0,1834.8 Z" fill="#000"/><circle cx="962.0" cy="1824.3" r="9.75" fill="none" stroke="#000" stroke-width="1.5"/>
<circle cx="1011.9" cy="1811.1" r="10.5" fill="#fff"/><path d="M1011.9,1800.6 A10.5,10.5 0 0 0 1011.9,1821.6 Z" fill="#000"/><circle cx="1011.9" cy="1811.1" r="9.75" fill="none" stroke="#000" stroke-width="1.5"/>
<circle cx="1093.4" cy="1799.6" r="10.5" fill="#fff"/><path d="M1093.4,1789.1 A10.5,10.5 0 0 0 1093.4,1810.1 Z" fill="#000"/><circle cx="1093.4" cy="1799.6" r="9.75" fill="none" stroke="#000" stroke-width="1.5"/>
<circle cx="1121.0" cy="1794.0" r="10.5" fill="#fff"/><path d="M1121.0,1783.5 A10.5,10.5 0 0 0 1121.0,1804.5 Z" fill="#000"/><circle cx="1121.0" cy="1794.0" r="9.75" fill="none" stroke="#000" stroke-width="1.5"/>
<circle cx="1165.2" cy="1789.1" r="10.5" fill="#fff"/><path d="M1165.2,1778.6 A10.5,10.5 0 0 0 1165.2,1799.6 Z" fill="#000"/><circle cx="1165.2" cy="1789.1" r="9.75" fill="none" stroke="#000" stroke-width="1.5"/>
<circle cx="1217.9" cy="1787.4" r="10.5" fill="#fff"/><path d="M1217.9,1776.9 A10.5,10.5 0 0 0 1217.9,1797.9 Z" fill="#000"/><circle cx="1217.9" cy="1787.4" r="9.75" fill="none" stroke="#000" stroke-width="1.5"/>
<circle cx="309.9" cy="2131.6" r="10.5" fill="#fff"/><path d="M309.9,2121.1 A10.5,10.5 0 0 1 309.9,2142.1 Z" fill="#dd0000"/><circle cx="309.9" cy="2131.6" r="9.75" fill="none" stroke="#dd0000" stroke-width="1.5"/>
<circle cx="374.0" cy="2080.9" r="10.5" fill="#fff"/><path d="M374.0,2070.4 A10.5,10.5 0 0 1 374.0,2091.4 Z" fill="#dd0000"/><circle cx="374.0" cy="2080.9" r="9.75" fill="none" stroke="#dd0000" stroke-width="1.5"/>
<circle cx="429.9" cy="2066.1" r="10.5" fill="#fff"/><path d="M429.9,2055.6 A10.5,10.5 0 0 1 429.9,2076.6 Z" fill="#dd0000"/><circle cx="429.9" cy="2066.1" r="9.75" fill="none" stroke="#dd0000" stroke-width="1.5"/>
<circle cx="454.7" cy="2039.1" r="10.5" fill="#fff"/><path d="M454.7,2028.6 A10.5,10.5 0 0 1 454.7,2049.6 Z" fill="#dd0000"/><circle cx="454.7" cy="2039.1" r="9.75" fill="none" stroke="#dd0000" stroke-width="1.5"/>
<circle cx="484.3" cy="2027.5" r="10.5" fill="#fff"/><path d="M484.3,2017.0 A10.5,10.5 0 0 1 484.3,2038.0 Z" fill="#dd0000"/><circle cx="484.3" cy="2027.5" r="9.75" fill="none" stroke="#dd0000" stroke-width="1.5"/>
<circle cx="513.9" cy="1998.3" r="10.5" fill="#fff"/><path d="M513.9,1987.8 A10.5,10.5 0 0 1 513.9,2008.8 Z" fill="#dd0000"/><circle cx="513.9" cy="1998.3" r="9.75" fill="none" stroke="#dd0000" stroke-width="1.5"/>
<circle cx="540.7" cy="1970.8" r="10.5" fill="#fff"/><path d="M540.7,1960.3 A10.5,10.5 0 0 1 540.7,1981.3 Z" fill="#dd0000"/><circle cx="540.7" cy="1970.8" r="9.75" fill="none" stroke="#dd0000" stroke-width="1.5"/>
<circle cx="563.4" cy="1959.2" r="10.5" fill="#fff"/><path d="M563.4,1948.7 A10.5,10.5 0 0 1 563.4,1969.7 Z" fill="#dd0000"/><circle cx="563.4" cy="1959.2" r="9.75" fill="none" stroke="#dd0000" stroke-width="1.5"/>
<circle cx="588.1" cy="1947.1" r="10.5" fill="#fff"/><path d="M588.1,1936.6 A10.5,10.5 0 0 1 588.1,1957.6 Z" fill="#dd0000"/><circle cx="588.1" cy="1947.1" r="9.75" fill="none" stroke="#dd0000" stroke-width="1.5"/>
<circle cx="671.7" cy="1927.9" r="10.5" fill="#fff"/><path d="M671.7,1917.4 A10.5,10.5 0 0 1 671.7,1938.4 Z" fill="#dd0000"/><circle cx="671.7" cy="1927.9" r="9.75" fill="none" stroke="#dd0000" stroke-width="1.5"/>
<circle cx="777.5" cy="1894.3" r="10.5" fill="#fff"/><path d="M777.5,1883.8 A10.5,10.5 0 0 1 777.5,1904.8 Z" fill="#dd0000"/><circle cx="777.5" cy="1894.3" r="9.75" fill="none" stroke="#dd0000" stroke-width="1.5"/>
<circle cx="808.7" cy="1857.9" r="10.5" fill="#fff"/><path d="M808.7,1847.4 A10.5,10.5 0 0 1 808.7,1868.4 Z" fill="#dd0000"/><circle cx="808.7" cy="1857.9" r="9.75" fill="none" stroke="#dd0000" stroke-width="1.5"/>
<circle cx="846.0" cy="1838.7" r="10.5" fill="#fff"/><path d="M846.0,1828.2 A10.5,10.5 0 0 1 846.0,1849.2 Z" fill="#dd0000"/><circle cx="846.0" cy="1838.7" r="9.75" fill="none" stroke="#dd0000" stroke-width="1.5"/>
<circle cx="880.5" cy="1822.7" r="10.5" fill="#fff"/><path d="M880.5,1812.2 A10.5,10.5 0 0 1 880.5,1833.2 Z" fill="#dd0000"/><circle cx="880.5" cy="1822.7" r="9.75" fill="none" stroke="#dd0000" stroke-width="1.5"/>
<circle cx="962.0" cy="1811.1" r="10.5" fill="#fff"/><path d="M962.0,1800.6 A10.5,10.5 0 0 1 962.0,1821.6 Z" fill="#dd0000"/><circle cx="962.0" cy="1811.1" r="9.75" fill="none" stroke="#dd0000" stroke-width="1.5"/>
<circle cx="1011.9" cy="1805.6" r="10.5" fill="#fff"/><path d="M1011.9,1795.1 A10.5,10.5 0 0 1 1011.9,1816.1 Z" fill="#dd0000"/><circle cx="1011.9" cy="1805.6" r="9.75" fill="none" stroke="#dd0000" stroke-width="1.5"/>
<circle cx="1093.4" cy="1793.5" r="10.5" fill="#fff"/><path d="M1093.4,1783.0 A10.5,10.5 0 0 1 1093.4,1804.0 Z" fill="#dd0000"/><circle cx="1093.4" cy="1793.5" r="9.75" fill="none" stroke="#dd0000" stroke-width="1.5"/>
<circle cx="1121.0" cy="1780.8" r="10.5" fill="#fff"/><path d="M1121.0,1770.3 A10.5,10.5 0 0 1 1121.0,1791.3 Z" fill="#dd0000"/><circle cx="1121.0" cy="1780.8" r="9.75" fill="none" stroke="#dd0000" stroke-width="1.5"/>
<circle cx="1165.2" cy="1770.4" r="10.5" fill="#fff"/><path d="M1165.2,1759.9 A10.5,10.5 0 0 1 1165.2,1780.9 Z" fill="#dd0000"/><circle cx="1165.2" cy="1770.4" r="9.75" fill="none" stroke="#dd0000" stroke-width="1.5"/>
<circle cx="1217.9" cy="1768.7" r="10.5" fill="#fff"/><path d="M1217.9,1758.2 A10.5,10.5 0 0 1 1217.9,1779.2 Z" fill="#dd0000"/><circle cx="1217.9" cy="1768.7" r="9.75" fill="none" stroke="#dd0000" stroke-width="1.5"/>
<clipPath id="hs0"><rect x="296.5" y="2100.6" width="26.8" height="16.8"/></clipPath><polygon points="309.9,2102.6 312.7,2110.1 320.7,2110.4 314.5,2115.4 316.6,2123.2 309.9,2118.8 303.2,2123.2 305.4,2115.4 299.1,2110.4 307.1,2110.1" fill="#fff" stroke="#0000ff" stroke-width="1.5" stroke-linejoin="round"/><polygon points="309.9,2102.6 312.7,2110.1 320.7,2110.4 314.5,2115.4 316.6,2123.2 309.9,2118.8 303.2,2123.2 305.4,2115.4 299.1,2110.4 307.1,2110.1" fill="#0000ff" clip-path="url(#hs0)"/>
<clipPath id="hs1"><rect x="360.6" y="2005.3" width="26.8" height="16.8"/></clipPath><polygon points="374.0,2007.3 376.8,2014.8 384.8,2015.2 378.5,2020.2 380.7,2027.9 374.0,2023.5 367.3,2027.9 369.4,2020.2 363.1,2015.2 371.2,2014.8" fill="#fff" stroke="#0000ff" stroke-width="1.5" stroke-linejoin="round"/><polygon points="374.0,2007.3 376.8,2014.8 384.8,2015.2 378.5,2020.2 380.7,2027.9 374.0,2023.5 367.3,2027.9 369.4,2020.2 363.1,2015.2 371.2,2014.8" fill="#0000ff" clip-path="url(#hs1)"/>
<clipPath id="hs2"><rect x="416.6" y="1970.1" width="26.8" height="16.8"/></clipPath><polygon points="429.9,1972.1 432.8,1979.6 440.8,1979.9 434.5,1984.9 436.7,1992.7 429.9,1988.3 423.2,1992.7 425.4,1984.9 419.1,1979.9 427.1,1979.6" fill="#fff" stroke="#0000ff" stroke-width="1.5" stroke-linejoin="round"/><polygon points="429.9,1972.1 432.8,1979.6 440.8,1979.9 434.5,1984.9 436.7,1992.7 429.9,1988.3 423.2,1992.7 425.4,1984.9 419.1,1979.9 427.1,1979.6" fill="#0000ff" clip-path="url(#hs2)"/>
<clipPath id="hs3"><rect x="441.3" y="1921.1" width="26.8" height="16.8"/></clipPath><polygon points="454.7,1923.1 457.5,1930.6 465.5,1930.9 459.2,1935.9 461.4,1943.7 454.7,1939.2 448.0,1943.7 450.1,1935.9 443.8,1930.9 451.9,1930.6" fill="#fff" stroke="#0000ff" stroke-width="1.5" stroke-linejoin="round"/><polygon points="454.7,1923.1 457.5,1930.6 465.5,1930.9 459.2,1935.9 461.4,1943.7 454.7,1939.2 448.0,1943.7 450.1,1935.9 443.8,1930.9 451.9,1930.6" fill="#0000ff" clip-path="url(#hs3)"/>
<clipPath id="hs4"><rect x="470.9" y="1897.9" width="26.8" height="16.8"/></clipPath><polygon points="484.3,1899.9 487.1,1907.5 495.1,1907.8 488.8,1912.8 491.0,1920.6 484.3,1916.1 477.6,1920.6 479.7,1912.8 473.5,1907.8 481.5,1907.5" fill="#fff" stroke="#0000ff" stroke-width="1.5" stroke-linejoin="round"/><polygon points="484.3,1899.9 487.1,1907.5 495.1,1907.8 488.8,1912.8 491.0,1920.6 484.3,1916.1 477.6,1920.6 479.7,1912.8 473.5,1907.8 481.5,1907.5" fill="#0000ff" clip-path="url(#hs4)"/>
<clipPath id="hs5"><rect x="500.5" y="1842.3" width="26.8" height="16.8"/></clipPath><polygon points="513.9,1844.3 516.7,1851.8 524.7,1852.2 518.5,1857.2 520.6,1864.9 513.9,1860.5 507.2,1864.9 509.3,1857.2 503.1,1852.2 511.1,1851.8" fill="#fff" stroke="#0000ff" stroke-width="1.5" stroke-linejoin="round"/><polygon points="513.9,1844.3 516.7,1851.8 524.7,1852.2 518.5,1857.2 520.6,1864.9 513.9,1860.5 507.2,1864.9 509.3,1857.2 503.1,1852.2 511.1,1851.8" fill="#0000ff" clip-path="url(#hs5)"/>
<clipPath id="hs6"><rect x="527.3" y="1787.3" width="26.8" height="16.8"/></clipPath><polygon points="540.7,1789.3 543.5,1796.8 551.5,1797.1 545.2,1802.1 547.4,1809.9 540.7,1805.4 534.0,1809.9 536.1,1802.1 529.8,1797.1 537.9,1796.8" fill="#fff" stroke="#0000ff" stroke-width="1.5" stroke-linejoin="round"/><polygon points="540.7,1789.3 543.5,1796.8 551.5,1797.1 545.2,1802.1 547.4,1809.9 540.7,1805.4 534.0,1809.9 536.1,1802.1 529.8,1797.1 537.9,1796.8" fill="#0000ff" clip-path="url(#hs6)"/>
<clipPath id="hs7"><rect x="550.0" y="1766.3" width="26.8" height="16.8"/></clipPath><polygon points="563.4,1768.3 566.2,1775.9 574.2,1776.2 567.9,1781.2 570.1,1789.0 563.4,1784.5 556.7,1789.0 558.8,1781.2 552.5,1776.2 560.6,1775.9" fill="#fff" stroke="#0000ff" stroke-width="1.5" stroke-linejoin="round"/><polygon points="563.4,1768.3 566.2,1775.9 574.2,1776.2 567.9,1781.2 570.1,1789.0 563.4,1784.5 556.7,1789.0 558.8,1781.2 552.5,1776.2 560.6,1775.9" fill="#0000ff" clip-path="url(#hs7)"/>
<clipPath id="hs8"><rect x="574.7" y="1743.8" width="26.8" height="16.8"/></clipPath><polygon points="588.1,1745.8 590.9,1753.3 599.0,1753.6 592.7,1758.6 594.8,1766.4 588.1,1761.9 581.4,1766.4 583.6,1758.6 577.3,1753.6 585.3,1753.3" fill="#fff" stroke="#0000ff" stroke-width="1.5" stroke-linejoin="round"/><polygon points="588.1,1745.8 590.9,1753.3 599.0,1753.6 592.7,1758.6 594.8,1766.4 588.1,1761.9 581.4,1766.4 583.6,1758.6 577.3,1753.6 585.3,1753.3" fill="#0000ff" clip-path="url(#hs8)"/>
<clipPath id="hs9"><rect x="658.3" y="1706.9" width="26.8" height="16.8"/></clipPath><polygon points="671.7,1708.9 674.5,1716.4 682.5,1716.7 676.2,1721.7 678.4,1729.5 671.7,1725.1 665.0,1729.5 667.1,1721.7 660.8,1716.7 668.8,1716.4" fill="#fff" stroke="#0000ff" stroke-width="1.5" stroke-linejoin="round"/><polygon points="671.7,1708.9 674.5,1716.4 682.5,1716.7 676.2,1721.7 678.4,1729.5 671.7,1725.1 665.0,1729.5 667.1,1721.7 660.8,1716.7 668.8,1716.4" fill="#0000ff" clip-path="url(#hs9)"/>
<clipPath id="hs10"><rect x="764.1" y="1641.3" width="26.8" height="16.8"/></clipPath><polygon points="777.5,1643.3 780.3,1650.9 788.4,1651.2 782.1,1656.2 784.2,1664.0 777.5,1659.5 770.8,1664.0 773.0,1656.2 766.7,1651.2 774.7,1650.9" fill="#fff" stroke="#0000ff" stroke-width="1.5" stroke-linejoin="round"/><polygon points="777.5,1643.3 780.3,1650.9 788.4,1651.2 782.1,1656.2 784.2,1664.0 777.5,1659.5 770.8,1664.0 773.0,1656.2 766.7,1651.2 774.7,1650.9" fill="#0000ff" clip-path="url(#hs10)"/>
<clipPath id="hs11"><rect x="795.3" y="1568.1" width="26.8" height="16.8"/></clipPath><polygon points="808.7,1570.1 811.6,1577.6 819.6,1578.0 813.3,1583.0 815.4,1590.7 808.7,1586.3 802.0,1590.7 804.2,1583.0 797.9,1578.0 805.9,1577.6" fill="#fff" stroke="#0000ff" stroke-width="1.5" stroke-linejoin="round"/><polygon points="808.7,1570.1 811.6,1577.6 819.6,1578.0 813.3,1583.0 815.4,1590.7 808.7,1586.3 802.0,1590.7 804.2,1583.0 797.9,1578.0 805.9,1577.6" fill="#0000ff" clip-path="url(#hs11)"/>
<clipPath id="hs12"><rect x="832.6" y="1529.0" width="26.8" height="16.8"/></clipPath><polygon points="846.0,1531.0 848.9,1538.5 856.9,1538.9 850.6,1543.9 852.8,1551.6 846.0,1547.2 839.3,1551.6 841.5,1543.9 835.2,1538.9 843.2,1538.5" fill="#fff" stroke="#0000ff" stroke-width="1.5" stroke-linejoin="round"/><polygon points="846.0,1531.0 848.9,1538.5 856.9,1538.9 850.6,1543.9 852.8,1551.6 846.0,1547.2 839.3,1551.6 841.5,1543.9 835.2,1538.9 843.2,1538.5" fill="#0000ff" clip-path="url(#hs12)"/>
<clipPath id="hs13"><rect x="867.1" y="1500.9" width="26.8" height="16.8"/></clipPath><polygon points="880.5,1502.9 883.3,1510.5 891.4,1510.8 885.1,1515.8 887.2,1523.6 880.5,1519.1 873.8,1523.6 876.0,1515.8 869.7,1510.8 877.7,1510.5" fill="#fff" stroke="#0000ff" stroke-width="1.5" stroke-linejoin="round"/><polygon points="880.5,1502.9 883.3,1510.5 891.4,1510.8 885.1,1515.8 887.2,1523.6 880.5,1519.1 873.8,1523.6 876.0,1515.8 869.7,1510.8 877.7,1510.5" fill="#0000ff" clip-path="url(#hs13)"/>
<clipPath id="hs14"><rect x="948.6" y="1472.8" width="26.8" height="16.8"/></clipPath><polygon points="962.0,1474.8 964.9,1482.4 972.9,1482.7 966.6,1487.7 968.7,1495.5 962.0,1491.0 955.3,1495.5 957.5,1487.7 951.2,1482.7 959.2,1482.4" fill="#fff" stroke="#0000ff" stroke-width="1.5" stroke-linejoin="round"/><polygon points="962.0,1474.8 964.9,1482.4 972.9,1482.7 966.6,1487.7 968.7,1495.5 962.0,1491.0 955.3,1495.5 957.5,1487.7 951.2,1482.7 959.2,1482.4" fill="#0000ff" clip-path="url(#hs14)"/>
<clipPath id="hs15"><rect x="998.5" y="1455.2" width="26.8" height="16.8"/></clipPath><polygon points="1011.9,1457.2 1014.7,1464.8 1022.8,1465.1 1016.5,1470.1 1018.6,1477.9 1011.9,1473.4 1005.2,1477.9 1007.4,1470.1 1001.1,1465.1 1009.1,1464.8" fill="#fff" stroke="#0000ff" stroke-width="1.5" stroke-linejoin="round"/><polygon points="1011.9,1457.2 1014.7,1464.8 1022.8,1465.1 1016.5,1470.1 1018.6,1477.9 1011.9,1473.4 1005.2,1477.9 1007.4,1470.1 1001.1,1465.1 1009.1,1464.8" fill="#0000ff" clip-path="url(#hs15)"/>
<clipPath id="hs16"><rect x="1080.0" y="1432.1" width="26.8" height="16.8"/></clipPath><polygon points="1093.4,1434.1 1096.3,1441.6 1104.3,1442.0 1098.0,1447.0 1100.1,1454.7 1093.4,1450.3 1086.7,1454.7 1088.9,1447.0 1082.6,1442.0 1090.6,1441.6" fill="#fff" stroke="#0000ff" stroke-width="1.5" stroke-linejoin="round"/><polygon points="1093.4,1434.1 1096.3,1441.6 1104.3,1442.0 1098.0,1447.0 1100.1,1454.7 1093.4,1450.3 1086.7,1454.7 1088.9,1447.0 1082.6,1442.0 1090.6,1441.6" fill="#0000ff" clip-path="url(#hs16)"/>
<clipPath id="hs17"><rect x="1107.6" y="1413.4" width="26.8" height="16.8"/></clipPath><polygon points="1121.0,1415.4 1123.8,1422.9 1131.9,1423.3 1125.6,1428.3 1127.7,1436.0 1121.0,1431.6 1114.3,1436.0 1116.5,1428.3 1110.2,1423.3 1118.2,1422.9" fill="#fff" stroke="#0000ff" stroke-width="1.5" stroke-linejoin="round"/><polygon points="1121.0,1415.4 1123.8,1422.9 1131.9,1423.3 1125.6,1428.3 1127.7,1436.0 1121.0,1431.6 1114.3,1436.0 1116.5,1428.3 1110.2,1423.3 1118.2,1422.9" fill="#0000ff" clip-path="url(#hs17)"/>
<clipPath id="hs18"><rect x="1151.8" y="1399.6" width="26.8" height="16.8"/></clipPath><polygon points="1165.2,1401.6 1168.0,1409.1 1176.1,1409.5 1169.8,1414.5 1171.9,1422.2 1165.2,1417.8 1158.5,1422.2 1160.7,1414.5 1154.4,1409.5 1162.4,1409.1" fill="#fff" stroke="#0000ff" stroke-width="1.5" stroke-linejoin="round"/><polygon points="1165.2,1401.6 1168.0,1409.1 1176.1,1409.5 1169.8,1414.5 1171.9,1422.2 1165.2,1417.8 1158.5,1422.2 1160.7,1414.5 1154.4,1409.5 1162.4,1409.1" fill="#0000ff" clip-path="url(#hs18)"/>
<clipPath id="hs19"><rect x="1204.5" y="1395.2" width="26.8" height="16.8"/></clipPath><polygon points="1217.9,1397.2 1220.8,1404.7 1228.8,1405.1 1222.5,1410.1 1224.6,1417.8 1217.9,1413.4 1211.2,1417.8 1213.4,1410.1 1207.1,1405.1 1215.1,1404.7" fill="#fff" stroke="#0000ff" stroke-width="1.5" stroke-linejoin="round"/><polygon points="1217.9,1397.2 1220.8,1404.7 1228.8,1405.1 1222.5,1410.1 1224.6,1417.8 1217.9,1413.4 1211.2,1417.8 1213.4,1410.1 1207.1,1405.1 1215.1,1404.7" fill="#0000ff" clip-path="url(#hs19)"/>
<g clip-path="url(#clipB)">
<path d="M309.9,2132.3 L317.5,2127.1 L325.0,2121.9 L332.6,2116.8 L340.2,2111.8 L347.7,2106.7 L355.3,2101.7 L362.9,2096.8 L370.4,2091.8 L378.0,2087.0 L385.6,2082.1 L393.1,2077.3 L400.7,2072.6 L408.3,2067.8 L415.8,2063.1 L423.4,2058.5 L431.0,2053.9 L438.5,2049.3 L446.1,2044.8 L453.7,2040.3 L461.2,2035.8 L468.8,2031.4 L476.4,2027.0 L483.9,2022.7 L491.5,2018.4 L499.1,2014.1 L506.6,2009.9 L514.2,2005.7 L521.8,2001.6 L529.3,1997.4 L536.9,1993.4 L544.5,1989.3 L552.0,1985.3 L559.6,1981.4 L567.2,1977.5 L574.8,1973.6 L582.3,1969.7 L589.9,1965.9 L597.5,1962.2 L605.0,1958.4 L612.6,1954.7 L620.2,1951.1 L627.7,1947.5 L635.3,1943.9 L642.9,1940.4 L650.4,1936.9 L658.0,1933.4 L665.6,1930.0 L673.1,1926.6 L680.7,1923.3 L688.3,1920.0 L695.8,1916.7 L703.4,1913.5 L711.0,1910.3 L718.5,1907.1 L726.1,1904.0 L733.7,1900.9 L741.2,1897.9 L748.8,1894.9 L756.4,1891.9 L763.9,1889.0 L771.5,1886.1 L779.1,1883.3 L786.6,1880.5 L794.2,1877.7 L801.8,1875.0 L809.3,1872.3 L816.9,1869.7 L824.5,1867.0 L832.0,1864.5 L839.6,1861.9 L847.2,1859.4 L854.7,1857.0 L862.3,1854.5 L869.9,1852.2 L877.4,1849.8 L885.0,1847.5 L892.6,1845.2 L900.1,1843.0 L907.7,1840.8 L915.3,1838.7 L922.8,1836.5 L930.4,1834.5 L938.0,1832.4 L945.5,1830.4 L953.1,1828.5 L960.7,1826.5 L968.2,1824.7 L975.8,1822.8 L983.4,1821.0 L990.9,1819.2 L998.5,1817.5 L1006.1,1815.8 L1013.6,1814.2 L1021.2,1812.5 L1028.8,1811.0 L1036.3,1809.4 L1043.9,1807.9 L1051.5,1806.5 L1059.0,1805.0 L1066.6,1803.7 L1074.2,1802.3 L1081.7,1801.0 L1089.3,1799.7 L1096.9,1798.5 L1104.4,1797.3 L1112.0,1796.1 L1119.6,1795.0 L1127.1,1794.0 L1134.7,1792.9 L1142.3,1791.9 L1149.8,1790.9 L1157.4,1790.0 L1165.0,1789.1 L1172.5,1788.3 L1180.1,1787.5 L1187.7,1786.7 L1195.2,1786.0 L1202.8,1785.3 L1210.4,1784.6 L1217.9,1784.0" fill="none" stroke="#000" stroke-width="3.2" stroke-linecap="round" stroke-linejoin="round"/>
<path d="M309.9,2131.1 L317.5,2125.6 L325.0,2120.2 L332.6,2114.9 L340.2,2109.5 L347.7,2104.3 L355.3,2099.0 L362.9,2093.8 L370.4,2088.7 L378.0,2083.6 L385.6,2078.5 L393.1,2073.5 L400.7,2068.5 L408.3,2063.5 L415.8,2058.6 L423.4,2053.7 L431.0,2048.9 L438.5,2044.1 L446.1,2039.4 L453.7,2034.7 L461.2,2030.0 L468.8,2025.4 L476.4,2020.8 L483.9,2016.2 L491.5,2011.7 L499.1,2007.3 L506.6,2002.9 L514.2,1998.5 L521.8,1994.1 L529.3,1989.8 L536.9,1985.6 L544.5,1981.4 L552.0,1977.2 L559.6,1973.1 L567.2,1969.0 L574.8,1964.9 L582.3,1960.9 L589.9,1957.0 L597.5,1953.0 L605.0,1949.1 L612.6,1945.3 L620.2,1941.5 L627.7,1937.7 L635.3,1934.0 L642.9,1930.3 L650.4,1926.7 L658.0,1923.1 L665.6,1919.5 L673.1,1916.0 L680.7,1912.5 L688.3,1909.1 L695.8,1905.7 L703.4,1902.3 L711.0,1899.0 L718.5,1895.7 L726.1,1892.5 L733.7,1889.3 L741.2,1886.2 L748.8,1883.1 L756.4,1880.0 L763.9,1877.0 L771.5,1874.0 L779.1,1871.0 L786.6,1868.1 L794.2,1865.3 L801.8,1862.5 L809.3,1859.7 L816.9,1856.9 L824.5,1854.2 L832.0,1851.6 L839.6,1849.0 L847.2,1846.4 L854.7,1843.9 L862.3,1841.4 L869.9,1838.9 L877.4,1836.5 L885.0,1834.1 L892.6,1831.8 L900.1,1829.5 L907.7,1827.3 L915.3,1825.0 L922.8,1822.9 L930.4,1820.8 L938.0,1818.7 L945.5,1816.6 L953.1,1814.6 L960.7,1812.7 L968.2,1810.7 L975.8,1808.9 L983.4,1807.0 L990.9,1805.2 L998.5,1803.5 L1006.1,1801.7 L1013.6,1800.1 L1021.2,1798.4 L1028.8,1796.8 L1036.3,1795.3 L1043.9,1793.8 L1051.5,1792.3 L1059.0,1790.9 L1066.6,1789.5 L1074.2,1788.1 L1081.7,1786.8 L1089.3,1785.6 L1096.9,1784.4 L1104.4,1783.2 L1112.0,1782.0 L1119.6,1780.9 L1127.1,1779.9 L1134.7,1778.8 L1142.3,1777.9 L1149.8,1776.9 L1157.4,1776.0 L1165.0,1775.2 L1172.5,1774.4 L1180.1,1773.6 L1187.7,1772.9 L1195.2,1772.2 L1202.8,1771.5 L1210.4,1770.9 L1217.9,1770.3" fill="none" stroke="#dd0000" stroke-width="3.2" stroke-linecap="round" stroke-linejoin="round"/>
<path d="M309.9,2114.8 L317.5,2104.1 L325.0,2093.6 L332.6,2083.1 L340.2,2072.7 L347.7,2062.4 L355.3,2052.1 L362.9,2042.0 L370.4,2031.9 L378.0,2021.9 L385.6,2012.0 L393.1,2002.1 L400.7,1992.3 L408.3,1982.7 L415.8,1973.1 L423.4,1963.5 L431.0,1954.1 L438.5,1944.7 L446.1,1935.4 L453.7,1926.2 L461.2,1917.1 L468.8,1908.1 L476.4,1899.1 L483.9,1890.2 L491.5,1881.4 L499.1,1872.7 L506.6,1864.0 L514.2,1855.5 L521.8,1847.0 L529.3,1838.6 L536.9,1830.2 L544.5,1822.0 L552.0,1813.8 L559.6,1805.7 L567.2,1797.7 L574.8,1789.8 L582.3,1781.9 L589.9,1774.1 L597.5,1766.4 L605.0,1758.8 L612.6,1751.3 L620.2,1743.8 L627.7,1736.5 L635.3,1729.2 L642.9,1721.9 L650.4,1714.8 L658.0,1707.8 L665.6,1700.8 L673.1,1693.9 L680.7,1687.1 L688.3,1680.3 L695.8,1673.7 L703.4,1667.1 L711.0,1660.6 L718.5,1654.2 L726.1,1647.8 L733.7,1641.6 L741.2,1635.4 L748.8,1629.3 L756.4,1623.2 L763.9,1617.3 L771.5,1611.4 L779.1,1605.7 L786.6,1600.0 L794.2,1594.3 L801.8,1588.8 L809.3,1583.3 L816.9,1577.9 L824.5,1572.6 L832.0,1567.4 L839.6,1562.2 L847.2,1557.2 L854.7,1552.2 L862.3,1547.3 L869.9,1542.4 L877.4,1537.7 L885.0,1533.0 L892.6,1528.4 L900.1,1523.9 L907.7,1519.5 L915.3,1515.1 L922.8,1510.9 L930.4,1506.7 L938.0,1502.6 L945.5,1498.5 L953.1,1494.6 L960.7,1490.7 L968.2,1486.9 L975.8,1483.2 L983.4,1479.6 L990.9,1476.0 L998.5,1472.5 L1006.1,1469.1 L1013.6,1465.8 L1021.2,1462.6 L1028.8,1459.4 L1036.3,1456.3 L1043.9,1453.3 L1051.5,1450.4 L1059.0,1447.6 L1066.6,1444.8 L1074.2,1442.1 L1081.7,1439.5 L1089.3,1437.0 L1096.9,1434.6 L1104.4,1432.2 L1112.0,1429.9 L1119.6,1427.7 L1127.1,1425.6 L1134.7,1423.5 L1142.3,1421.6 L1149.8,1419.7 L1157.4,1417.9 L1165.0,1416.2 L1172.5,1414.5 L1180.1,1412.9 L1187.7,1411.5 L1195.2,1410.1 L1202.8,1408.7 L1210.4,1407.5 L1217.9,1406.3" fill="none" stroke="#0000ff" stroke-width="3.2" stroke-linecap="round" stroke-linejoin="round"/>
</g>
<text transform="translate(741.8,1119) scale(1,1.046)" font-size="62.7" text-anchor="middle">Fundmental Peak Power (mW)</text>
<text transform="translate(748.6,2318.5) scale(1,1.046)" font-size="62.7" text-anchor="middle">Fundmental Peak Power (mW)</text>
<text transform="translate(50.4,506.6) rotate(-90) scale(1,1.046)" font-size="62.7" text-anchor="middle">SH Peak Power (mW)</text>
<text transform="translate(83.4,1706.2) rotate(-90) scale(1,1.046)" font-size="63.2" text-anchor="middle">Conversion Efficiency <tspan font-family="Liberation Serif">η</tspan>(%)</text>
<text x="12" y="33.3" font-size="44" font-weight="bold">A</text>
<text x="12.5" y="1215.8" font-size="43.5" font-weight="bold">B</text>
<rect x="308.6" y="365.6" width="18.8" height="18.8" fill="#505050"/>
<polygon points="318.0,421.3 331.2,443.3 304.8,443.3" fill="#da4545"/>
<polygon points="318.0,480.0 321.9,490.6 333.2,491.1 324.4,498.1 327.4,508.9 318.0,502.7 308.6,508.9 311.6,498.1 302.8,491.1 314.1,490.6" fill="#4169e1"/>
<text x="373" y="391" font-size="50">Left output</text>
<text x="373" y="452" font-size="50">Right output</text>
<text x="373" y="513" font-size="50">Left +Right output</text>
<circle cx="304.3" cy="1362.6" r="11" fill="#fff"/><path d="M304.3,1351.6 A11,11 0 0 0 304.3,1373.6 Z" fill="#000"/><circle cx="304.3" cy="1362.6" r="10.25" fill="none" stroke="#000" stroke-width="1.5"/>
<circle cx="304.2" cy="1423.8" r="11" fill="#fff"/><path d="M304.2,1412.8 A11,11 0 0 1 304.2,1434.8 Z" fill="#dd0000"/><circle cx="304.2" cy="1423.8" r="10.25" fill="none" stroke="#dd0000" stroke-width="1.5"/>
<clipPath id="hs99"><rect x="290.4" y="1470.7" width="27.6" height="17.3"/></clipPath><polygon points="304.2,1472.7 307.1,1480.5 315.4,1480.9 308.9,1486.0 311.1,1494.0 304.2,1489.5 297.3,1494.0 299.5,1486.0 293.0,1480.9 301.3,1480.5" fill="#fff" stroke="#0000ff" stroke-width="1.5" stroke-linejoin="round"/><polygon points="304.2,1472.7 307.1,1480.5 315.4,1480.9 308.9,1486.0 311.1,1494.0 304.2,1489.5 297.3,1494.0 299.5,1486.0 293.0,1480.9 301.3,1480.5" fill="#0000ff" clip-path="url(#hs99)"/>
<text x="373" y="1379" font-size="50">Left output</text>
<text x="373" y="1441" font-size="50">Right output</text>
<text x="373" y="1502.5" font-size="50">Left +Right output</text>
</svg></body></html>
